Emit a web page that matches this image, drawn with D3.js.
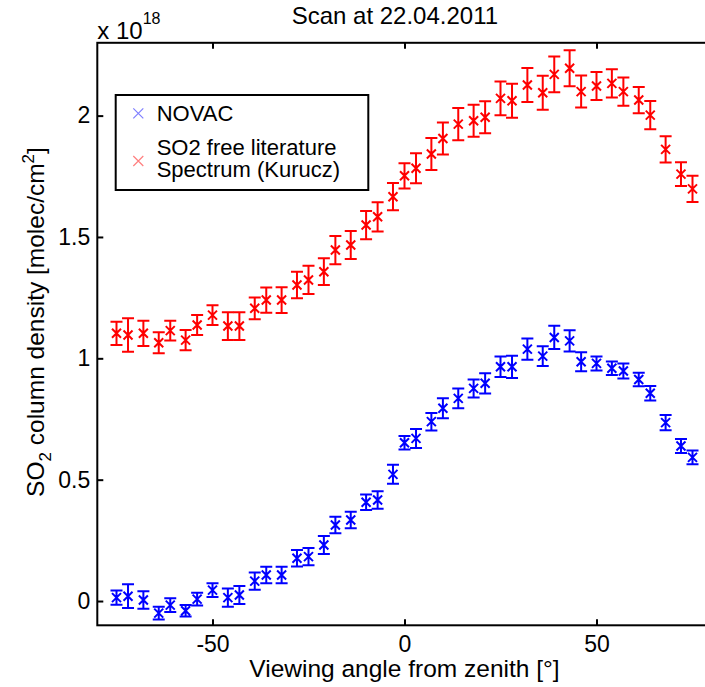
<!DOCTYPE html>
<html><head><meta charset="utf-8">
<script src="https://cdn.jsdelivr.net/npm/d3@7"></script>
<style>body{margin:0;background:#fff}svg{display:block}text{font-family:"Liberation Sans",Arial,sans-serif;fill:#000}</style>
</head><body>
<script>
const angles = [-75,-72,-68,-64,-61,-57,-54,-50,-46,-43,-39,-36,-32,-28,-25,-21,-18,-14,-10,-7,-3,0,3,7,10,14,18,21,25,28,32,36,39,43,46,50,54,57,61,64,68,72,75];
const novac = [0.014,0.02,0.004,-0.05,-0.017,-0.04,0.008,0.045,0.014,0.025,0.082,0.107,0.107,0.176,0.183,0.231,0.313,0.334,0.407,0.416,0.522,0.652,0.670,0.739,0.794,0.835,0.876,0.897,0.965,0.965,1.038,1.009,1.086,1.072,0.986,0.979,0.959,0.948,0.913,0.856,0.735,0.639,0.592];
const novacErr = [0.029,0.049,0.036,0.026,0.028,0.024,0.026,0.028,0.038,0.037,0.036,0.034,0.034,0.034,0.036,0.037,0.034,0.034,0.032,0.036,0.039,0.028,0.039,0.036,0.041,0.041,0.037,0.042,0.042,0.046,0.044,0.041,0.048,0.044,0.039,0.029,0.028,0.031,0.028,0.030,0.031,0.029,0.028];
const kurucz = [1.103,1.096,1.103,1.064,1.114,1.075,1.137,1.178,1.133,1.133,1.206,1.240,1.240,1.302,1.323,1.357,1.446,1.467,1.549,1.583,1.666,1.752,1.783,1.842,1.906,1.965,1.979,1.993,2.071,2.061,2.126,2.094,2.170,2.195,2.099,2.122,2.133,2.099,2.064,2.002,1.861,1.759,1.698];
const kuruczErr = [0.048,0.069,0.052,0.043,0.041,0.042,0.041,0.041,0.057,0.057,0.045,0.052,0.053,0.055,0.058,0.055,0.058,0.058,0.058,0.060,0.056,0.052,0.062,0.066,0.066,0.066,0.066,0.066,0.070,0.070,0.070,0.070,0.074,0.074,0.066,0.058,0.058,0.058,0.054,0.058,0.054,0.049,0.054];
const xTicks = [-50,0,50];
const yTicks = [0,0.5,1,1.5,2];
const seriesNames = ["NOVAC","SO2 free literature|Spectrum (Kurucz)"];
const seriesColors = ["#0000ff","#ff0000"];
const titleText = "Scan at 22.04.2011";
const xLabelText = "Viewing angle from zenith [°]";

const W = 705, H = 687;
const svg = d3.select("body").append("svg").attr("width", W).attr("height", H);
const x = d3.scaleLinear().domain([-80, 80]).range([97.3, 711.7]);
const y = d3.scaleLinear().domain([-0.1, 2.3]).range([625.3, 42.8]);
const x0 = x.range()[0], x1 = x.range()[1], yb = y.range()[0], yt = y.range()[1];

// axes box
svg.append("rect").attr("x", x0).attr("y", yt).attr("width", x1 - x0).attr("height", yb - yt)
  .attr("fill", "none").attr("stroke", "#000").attr("stroke-width", 2);

function styleAxis(g){
  g.select(".domain").remove();
  g.selectAll(".tick line").attr("stroke", "#000").attr("stroke-width", 2);
  g.selectAll("text").attr("font-size", 23).attr("font-family", '"Liberation Sans",Arial,sans-serif').attr("fill", "#000");
}
svg.append("g").attr("transform", `translate(0,${yb})`)
  .call(d3.axisBottom(x).tickValues(xTicks).tickSizeInner(-6).tickSizeOuter(0).tickPadding(10).tickFormat(d => String(d)))
  .call(styleAxis);
svg.append("g").attr("transform", `translate(0,${yt})`)
  .call(d3.axisTop(x).tickValues(xTicks).tickSizeInner(-6).tickSizeOuter(0).tickFormat(""))
  .call(styleAxis);
svg.append("g").attr("transform", `translate(${x0},0)`)
  .call(d3.axisLeft(y).tickValues(yTicks).tickSizeInner(-6).tickSizeOuter(0).tickPadding(7).tickFormat(d => String(d)))
  .call(styleAxis);
svg.append("g").attr("transform", `translate(${x1},0)`)
  .call(d3.axisRight(y).tickValues(yTicks).tickSizeInner(-6).tickSizeOuter(0).tickFormat(""))
  .call(styleAxis);

// data
const series = [
  {vals: novac, errs: novacErr, color: seriesColors[0]},
  {vals: kurucz, errs: kuruczErr, color: seriesColors[1]}
];
const cap = 6, ms = 4.5;
series.forEach(s => {
  const g = svg.append("g").attr("stroke", s.color).attr("stroke-width", 2).attr("fill", "none");
  angles.forEach((a, i) => {
    const cx = x(a), cy = y(s.vals[i]);
    const ylo = y(s.vals[i] - s.errs[i]), yhi = y(s.vals[i] + s.errs[i]);
    g.append("path").attr("d",
      `M${cx},${ylo}V${yhi}M${cx-cap},${ylo}H${cx+cap}M${cx-cap},${yhi}H${cx+cap}` +
      `M${cx-ms},${cy-ms}L${cx+ms},${cy+ms}M${cx-ms},${cy+ms}L${cx+ms},${cy-ms}`);
  });
});

// legend
const lg = svg.append("g");
lg.append("rect").attr("x", 115.7).attr("y", 95).attr("width", 252.6).attr("height", 95)
  .attr("fill", "#fff").attr("stroke", "#000").attr("stroke-width", 2);
const legendRows = [{my: 113.3, lines: [120.7]}, {my: 161, lines: [155, 177]}];
seriesNames.forEach((name, i) => {
  const r = legendRows[i];
  const mx = 138.3, lm = 5;
  lg.append("path").attr("d", `M${mx-lm},${r.my-lm}L${mx+lm},${r.my+lm}M${mx-lm},${r.my+lm}L${mx+lm},${r.my-lm}`)
    .attr("stroke", seriesColors[i]).attr("stroke-opacity", 0.5).attr("stroke-width", 1.2);
  name.split("|").forEach((t, j) => {
    lg.append("text").attr("x", 156.7).attr("y", r.lines[j]).attr("font-size", 22).text(t);
  });
});

// title
svg.append("text").attr("x", 291.7).attr("y", 24).attr("font-size", 24).text(titleText);
// exponent
const ex = svg.append("text").attr("x", 97.3).attr("y", 39.3).attr("font-size", 24);
ex.append("tspan").text("x 10");
ex.append("tspan").attr("font-size", 16).attr("dy", -15).text("18");
// x label
svg.append("text").attr("x", 404.5).attr("y", 677).attr("text-anchor", "middle").attr("font-size", 24.5).text(xLabelText);
// y label
const yl = svg.append("text").attr("transform", "translate(44,322) rotate(-90)").attr("text-anchor", "middle").attr("font-size", 24.5);
yl.append("tspan").text("SO");
yl.append("tspan").attr("font-size", 17).attr("dy", 7).text("2");
yl.append("tspan").attr("dy", -7).text(" column density [molec/cm");
yl.append("tspan").attr("font-size", 17).attr("dy", -10).text("2");
yl.append("tspan").attr("dy", 10).text("]");
</script>
</body></html>
